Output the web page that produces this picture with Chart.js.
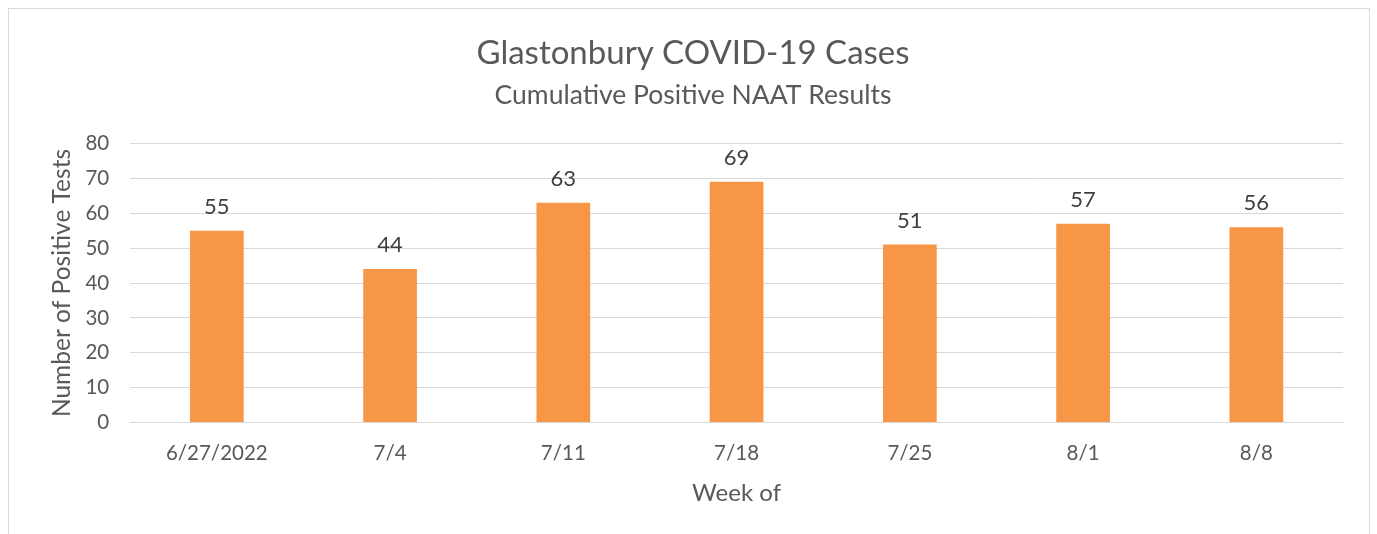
<!DOCTYPE html>
<html>
<head>
<meta charset="utf-8">
<script src="https://cdn.jsdelivr.net/npm/chart.js@4"></script>
<style>
  html, body { margin: 0; padding: 0; background: #fff; }
  #wrap { position: relative; width: 1377px; height: 534px; overflow: hidden; }
  #frame { position: absolute; left: 8px; top: 8px; width: 1362px; height: 540px; border: 1px solid #d9d9d9; box-sizing: border-box; }
  canvas { position: absolute; left: 0; top: 0; }
</style>
</head>
<body>
<div id="wrap">
  <div id="frame"></div>
  <canvas id="c" width="1377" height="534"></canvas>
</div>
<script>
const categories = ["6/27/2022", "7/4", "7/11", "7/18", "7/25", "8/1", "8/8"];
const positiveTests = [55, 44, 63, 69, 51, 57, 56];
const titleText = "Glastonbury COVID-19 Cases";
const subtitleText = "Cumulative Positive NAAT Results";
const yTitle = "Number of Positive Tests";
const xTitle = "Week of";

const FONT = "Lato, 'Open Sans', sans-serif";
const TEXT = "#595959";

const labelPlugin = {
  id: 'barLabels',
  afterDatasetsDraw(chart) {
    const ctx = chart.ctx;
    ctx.save();
    ctx.font = "22px " + FONT;
    ctx.fillStyle = "#404040";
    ctx.textAlign = "center";
    ctx.textBaseline = "bottom";
    chart.data.datasets.forEach((ds, i) => {
      const meta = chart.getDatasetMeta(i);
      meta.data.forEach((el, j) => {
        ctx.fillText(String(ds.data[j]), el.x, el.y - 13);
      });
    });
    ctx.restore();
  }
};

new Chart(document.getElementById('c'), {
  type: 'bar',
  data: {
    labels: categories,
    datasets: [{
      data: positiveTests,
      backgroundColor: "#F79646",
      borderWidth: 0,
      barPercentage: 0.31,
      categoryPercentage: 1.0
    }]
  },
  options: {
    responsive: false,
    animation: false,
    devicePixelRatio: 1,
    layout: { padding: { left: 43, right: 34, top: 24, bottom: 26 } },
    plugins: {
      legend: { display: false },
      tooltip: { enabled: false },
      title: {
        display: true, text: titleText, color: TEXT,
        font: { family: FONT, size: 33, weight: 'normal' },
        padding: { top: 10, bottom: 6 }
      },
      subtitle: {
        display: true, text: subtitleText, color: TEXT,
        font: { family: FONT, size: 26.5, weight: 'normal' },
        padding: { top: 0, bottom: 32 }
      }
    },
    scales: {
      x: {
        grid: { display: false, drawTicks: false },
        border: { display: true, color: "#d9d9d9", width: 1 },
        ticks: { color: TEXT, font: { family: FONT, size: 20.5 }, padding: 18 },
        title: { display: true, text: xTitle, color: TEXT, font: { family: FONT, size: 24 }, padding: { top: -4, bottom: 0 } }
      },
      y: {
        min: 0, max: 80,
        ticks: { stepSize: 10, color: TEXT, font: { family: FONT, size: 20.5 }, padding: 21 },
        grid: { color: "#d9d9d9", lineWidth: 1, drawTicks: false },
        border: { display: false },
        title: { display: true, text: yTitle, color: TEXT, font: { family: FONT, size: 24.5 }, padding: { top: 4, bottom: -12 } }
      }
    }
  },
  plugins: [labelPlugin]
});
</script>
</body>
</html>
